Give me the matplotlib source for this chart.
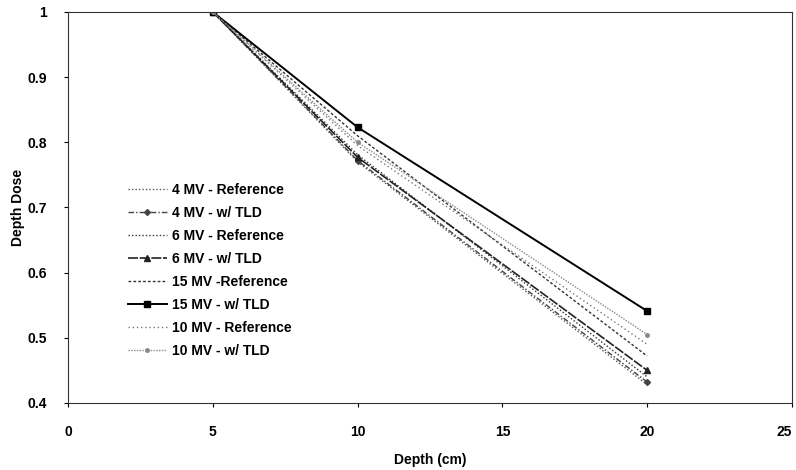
import matplotlib.pyplot as plt

plt.rcParams['font.family'] = ['Liberation Sans', 'DejaVu Sans']

# Profundidades (cm) y dosis relativas
depth = [5, 10, 20]

mv4_ref = [1.0, 0.770, 0.428]
mv4_tld = [1.0, 0.772, 0.432]
mv6_ref = [1.0, 0.781, 0.440]
mv6_tld = [1.0, 0.777, 0.450]
mv15_ref = [1.0, 0.810, 0.472]
mv15_tld = [1.0, 0.823, 0.541]
mv10_ref = [1.0, 0.795, 0.490]
mv10_tld = [1.0, 0.800, 0.505]

labels = ['4 MV - Reference', '4 MV - w/ TLD', '6 MV - Reference', '6 MV - w/ TLD',
          '15 MV -Reference', '15 MV - w/ TLD', '10 MV - Reference', '10 MV - w/ TLD']

fig = plt.figure(figsize=(7.96, 4.70), dpi=100)
ax = fig.add_axes([0.0854, 0.1426, 0.9096, 0.832])

ax.plot(depth, mv4_ref, linestyle=(0, (1, 1.5)), color='#555555', lw=1.0, label=labels[0])
ax.plot(depth, mv4_tld, linestyle=(0, (4, 1.5, 1, 1.5)), color='#444444', lw=1.0,
        marker='D', markersize=3, label=labels[1])
ax.plot(depth, mv6_ref, linestyle=(0, (1, 1.5)), color='#333333', lw=1.0, label=labels[2])
ax.plot(depth, mv6_tld, linestyle=(0, (6, 1)), color='#222222', lw=1.2,
        marker='^', markersize=5, label=labels[3])
ax.plot(depth, mv15_ref, linestyle=(0, (2, 1.5)), color='#333333', lw=1.0, label=labels[4])
ax.plot(depth, mv15_tld, linestyle='-', color='black', lw=1.4,
        marker='s', markersize=5, label=labels[5])
ax.plot(depth, mv10_ref, linestyle=(0, (1, 2)), color='#777777', lw=1.0, label=labels[6])
ax.plot(depth, mv10_tld, linestyle=(0, (1, 1)), color='#888888', lw=1.0,
        marker='o', markersize=2.5, label=labels[7])

ax.set_xlim(0, 25)
ax.set_ylim(0.4, 1.0)
ax.set_xticks([0, 5, 10, 15, 20, 25])
ax.set_yticks([0.4, 0.5, 0.6, 0.7, 0.8, 0.9, 1.0])
ax.set_yticklabels(['0.4', '0.5', '0.6', '0.7', '0.8', '0.9', '1'])
ax.tick_params(direction='out', length=3, width=0.8, labelsize=10)
ax.tick_params(axis='x', pad=13)
ax.tick_params(axis='y', pad=12)
for t in ax.get_xticklabels() + ax.get_yticklabels():
    t.set_fontweight('bold')
ax.get_xticklabels()[-1].set_horizontalalignment('right')

for s in ax.spines.values():
    s.set_linewidth(0.8)
    s.set_color('#333333')

ax.set_xlabel('Depth (cm)', fontsize=10, fontweight='bold', labelpad=10)
ax.set_ylabel('Depth Dose', fontsize=10, fontweight='bold', labelpad=2)

ax.legend(loc='upper left', bbox_to_anchor=(0.075, 0.578), frameon=False,
          prop={'size': 10, 'weight': 'bold'}, handlelength=2.8,
          labelspacing=0.65, handletextpad=0.4, borderaxespad=0)

plt.savefig('out.png', dpi=100)
